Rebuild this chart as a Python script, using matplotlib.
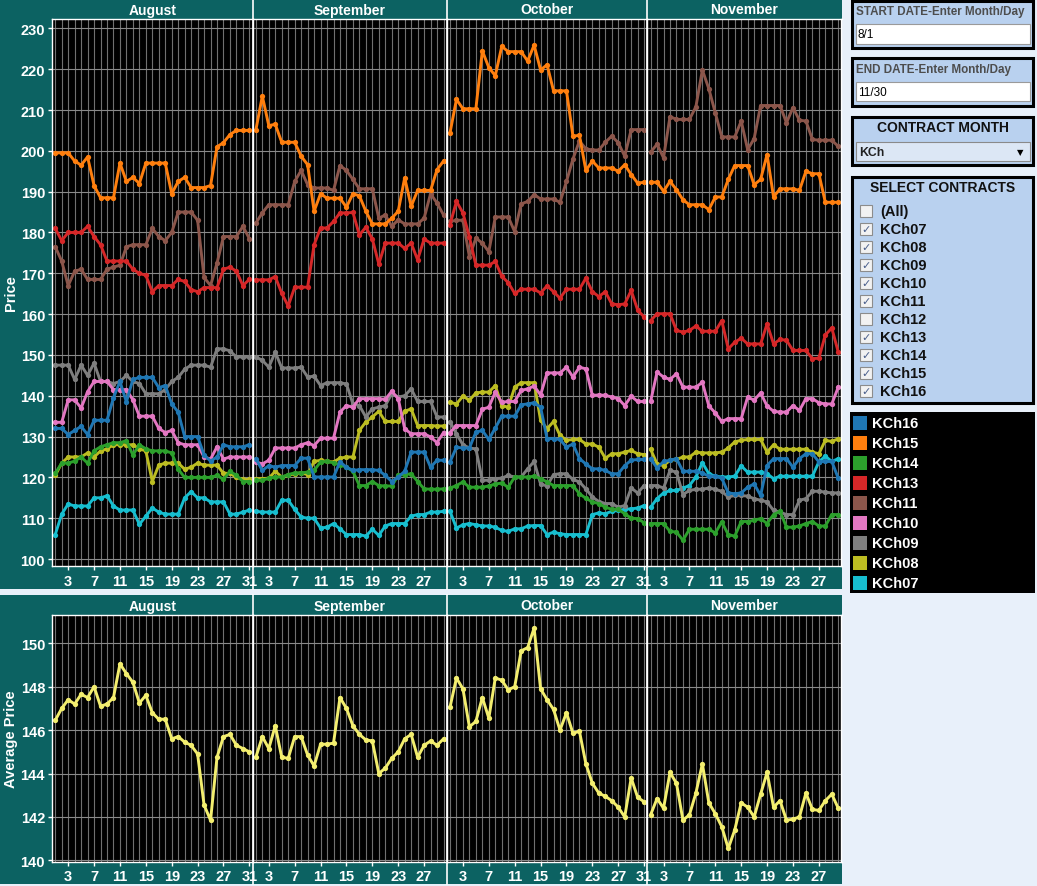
import matplotlib
matplotlib.use("Agg")
import matplotlib.pyplot as plt
from matplotlib.patches import Rectangle
from matplotlib.lines import Line2D

plt.rcParams["font.family"] = ["Liberation Sans", "DejaVu Sans"]

# ---- data (daily values, Aug 1 .. Nov 30) ----
months = ["August", "September", "October", "November"]
month_days = [31, 30, 31, 30]
month_ticks = [
    [3, 7, 11, 15, 19, 23, 27, 31],
    [3, 7, 11, 15, 19, 23, 27],
    [3, 7, 11, 15, 19, 23, 27, 31],
    [3, 7, 11, 15, 19, 23, 27],
]
price_ticks = [100, 110, 120, 130, 140, 150, 160, 170, 180, 190, 200, 210, 220, 230]
avg_ticks = [140, 142, 144, 146, 148, 150]

kch07 = [106, 111, 113.5, 113, 113, 113, 115, 115, 115.5, 113, 112, 112, 112, 108.5, 110.5, 112.5, 111.5, 111, 111, 111, 115, 116.5, 115, 115, 114, 114, 114, 111, 111, 111.5, 112,
         111.7, 111.5, 111.5, 111.5, 114.4, 114.4, 112.2, 110.3, 110, 110, 107.6, 107.8, 108.7, 107.4, 106, 106, 106, 105.6, 107.3, 105.8, 108.1, 108.7, 108.7, 108.7, 110.5, 110.9, 110.9, 111.5, 111.5, 111.7,
         111.7, 107.6, 108.4, 108.7, 108.4, 108.1, 108.1, 107.8, 107, 106.8, 107.4, 107.4, 108.1, 108.2, 108.2, 106, 106.6, 106.2, 106, 106, 106, 106, 110.9, 111.3, 111.1, 111.7, 111.9, 112.2, 112.3, 112.5, 113.1,
         112.7, 114.8, 116.2, 116.8, 116.8, 117.4, 118, 120.1, 123.6, 120.9, 120.3, 120.1, 120.1, 120.3, 122.8, 121.3, 121.3, 121.3, 120.9, 119.7, 120.3, 120.3, 120.3, 120.3, 120.3, 120.3, 123.8, 125.2, 123.9, 124.6]

kch08 = [120.5, 123.5, 125, 125, 125, 126, 125, 126.5, 127, 128, 128, 128, 128, 127, 126.5, 119, 123, 123.5, 123.5, 123.5, 122, 122.5, 123.5, 123, 123, 123, 121, 121, 120, 119.5, 119.5,
         119.7, 119.7, 119.8, 121.5, 120.1, 120.5, 120.9, 121.1, 120.7, 123.9, 124.2, 123.9, 123.8, 124.7, 125, 125, 131.5, 133.6, 134.8, 136.2, 133.7, 133.7, 133.7, 136.2, 136.8, 132.7, 132.7, 132.7, 132.6, 132.6,
         138.4, 138, 139.9, 138.9, 140.7, 140.9, 140.9, 142.5, 137.6, 137.2, 142.1, 143.2, 143.2, 143.2, 134, 131.9, 133.7, 130.3, 129.1, 129.3, 129.3, 128.2, 128.2, 127.4, 124.7, 125.8, 125.8, 126.2, 126.6, 125.8, 125.6,
         126.9, 123.3, 122.9, 124.2, 124.4, 125, 125, 126.2, 126, 126, 126, 126.2, 127.2, 128.7, 129.1, 129.3, 129.3, 129.3, 126.2, 128, 126.9, 126.9, 126.9, 126.9, 126.9, 126.2, 125.8, 129.1, 128.8, 129.5]

kch09 = [147.5, 147.5, 147.5, 144, 147.5, 145, 148, 143.5, 143.5, 143, 143.5, 145, 143.5, 143, 140.5, 140.5, 140.5, 141.5, 143.5, 144.5, 146.5, 147.5, 147.5, 147.5, 147, 151.5, 151.5, 151, 149.5, 149.5, 149.5,
         149.5, 148.7, 147, 150.7, 146.8, 146.8, 146.8, 147, 144.6, 144.8, 142.5, 143.2, 143.2, 143.2, 142.9, 138, 137.6, 134.8, 136.8, 137.2, 137.6, 140.5, 139.7, 140, 141.7, 138.6, 138.6, 138.6, 134.8, 134.8,
         133.6, 130.7, 128, 127.2, 127, 119.3, 119.3, 119.7, 119.8, 120.5, 120.1, 120.1, 122.1, 123.9, 118.4, 117.9, 120.7, 120.9, 120.9, 119.5, 118.9, 117.2, 115.2, 114.1, 113.6, 113.6, 112.7, 113.1, 117.4, 116.2, 118,
         118, 118, 117.4, 121.7, 121.3, 115.8, 116.8, 117.1, 117.1, 117.4, 117.1, 116.6, 115.2, 115.6, 115.6, 115.4, 114.8, 114.4, 114, 111.9, 111.5, 110.9, 110.9, 114.4, 114.8, 116.6, 116.6, 116.4, 116.2, 116.2]

kch10 = [133.5, 133.5, 139, 139, 137, 141, 143.5, 143.5, 143.5, 141.5, 141.5, 141.5, 139, 135, 135, 135, 132, 131, 131.5, 128.5, 128, 128, 128, 125, 124.5, 127.5, 124.5, 125, 125, 125, 125,
         123.8, 123.3, 124.2, 127.2, 127.2, 127.2, 127.2, 128, 128.5, 127.8, 129.6, 129.6, 129.6, 136, 137.6, 137.2, 139.3, 139.3, 139.3, 139.3, 139.1, 141.1, 139.3, 131.9, 130.7, 130.7, 130.7, 129.9, 128.5, 131,
         131, 132.7, 132.7, 132.7, 132.7, 136.7, 137.2, 140.9, 138.4, 138.6, 138.6, 141.3, 141.7, 142.4, 140.2, 145.6, 145.6, 145.6, 147, 144.6, 147, 146.6, 140.1, 140.2, 140.1, 139.7, 139.3, 137.6, 139.9, 138.6, 138.6,
         138.6, 145.8, 144.6, 144, 145.4, 142.1, 142.1, 142.1, 143.3, 137.5, 135.8, 133.7, 134.4, 134.4, 134.4, 139.7, 138.9, 140.7, 137.5, 136.2, 136, 136, 137.6, 136.4, 139.3, 139.3, 138.3, 138, 138, 142.1]

kch11 = [176.5, 173, 167, 170.5, 171, 168.5, 168.5, 168.5, 171, 171.5, 172, 176.5, 177, 177, 177, 181, 179, 178, 180, 185, 185, 185, 183, 169, 167, 172.5, 179, 179, 179, 181.5, 178.5,
         182.3, 184.8, 186.8, 186.8, 186.8, 186.8, 192.5, 195.2, 191.7, 190.9, 190.9, 190.9, 190.3, 196.4, 195.2, 193, 190.7, 190.7, 190.7, 183.5, 184.3, 181.5, 183.1, 182.1, 182.1, 182.1, 183.5, 189.5, 187.2, 184.3,
         182.7, 183, 183, 174.1, 178.6, 177.4, 175.3, 183.8, 183.8, 183.8, 180.2, 187, 187.6, 189.3, 188.2, 188.2, 188.2, 187.4, 192.5, 198, 202.4, 200.5, 200.2, 200.2, 202.1, 203.6, 202, 198.7, 205.2, 205.2, 205.2,
         199.7, 201.6, 198.3, 208.4, 207.7, 207.7, 207.7, 210.8, 219.8, 215.2, 209.3, 203.4, 203.4, 203.4, 207.3, 200.3, 203, 211.1, 211.1, 211.1, 211.1, 206.9, 210.6, 207.5, 207.3, 202.8, 202.6, 202.6, 202.6, 201.1]

kch13 = [181, 178, 180, 180, 180, 181.5, 179, 177, 173, 173, 173, 173, 171, 170, 169.5, 165.5, 167, 167, 167, 168.5, 168, 166, 165.5, 166.5, 166.5, 166.5, 171, 171.5, 170.5, 167, 168.5,
         168.4, 168.4, 168.4, 169.2, 165.1, 162, 166.6, 166.6, 166.6, 177, 181.1, 181.1, 182.7, 184.8, 184.8, 184.9, 179.4, 181.3, 178.4, 172.3, 177.4, 177.4, 177.4, 176.1, 177.4, 173.3, 178.4, 177.4, 177.4, 177.4,
         181.9, 187.6, 184.8, 178.9, 172, 172, 172, 172.9, 169.3, 167.7, 165.1, 166.1, 166.1, 166.1, 165.2, 166.9, 165.5, 163.9, 166.1, 166.1, 166.1, 168.8, 165.5, 164.3, 165.5, 162.5, 162.3, 162.5, 165.8, 161, 159.3,
         158.4, 160.1, 160.1, 160.1, 156, 155.6, 156, 157.1, 155.8, 155.8, 155.8, 158.4, 151.5, 153.1, 154.1, 152.7, 152.7, 152.7, 157.6, 152.7, 153.8, 153.6, 151.1, 151.1, 151.1, 149.1, 149.2, 154.9, 156.6, 150.7]

kch14 = [121, 123.5, 123.5, 124, 125, 123.5, 126.5, 127.5, 128, 128.5, 128.5, 129, 125.5, 128, 127, 126.5, 126.5, 126.5, 126, 122, 120, 120, 120, 120, 120, 120.5, 119.5, 121.5, 120.5, 119, 119,
         119.3, 119.3, 119.8, 120.1, 120.1, 120.7, 121.1, 121.1, 121.3, 121.7, 123.8, 123.9, 123.6, 123.1, 122.5, 121.5, 118, 118, 119, 118, 117.9, 117.9, 120.5, 120.7, 120.9, 119, 117.2, 117.1, 117.1, 117.2,
         117.4, 118, 118.9, 117.6, 117.6, 117.6, 117.9, 118.4, 118.6, 117.6, 120.1, 120.1, 120.1, 120.3, 119.7, 118.9, 118, 118, 118, 118, 116, 114.9, 114, 113.6, 112.7, 112.2, 112.2, 111.1, 110, 109.9, 108.9,
         108.7, 108.7, 108.7, 106.8, 106.6, 104.6, 107.3, 107.3, 107.3, 107.3, 106.4, 109.1, 106, 105.6, 109.2, 109.2, 109.5, 109.9, 108.7, 110.9, 111.7, 107.8, 107.8, 108.1, 108.7, 109.2, 108.1, 108.1, 110.9, 110.9]

kch15 = [199.5, 199.5, 199.5, 197.5, 196.5, 198.5, 191.5, 188.5, 188.5, 188.5, 197, 192.5, 193.5, 192, 197, 197, 197, 197, 189.5, 192.5, 193.5, 191, 191, 191, 191.5, 201, 202, 204, 205, 205, 205,
         205.1, 213.4, 206.2, 206.5, 202.1, 202.1, 202.1, 198.7, 196.6, 185.2, 189.5, 188.4, 188.4, 188.4, 186.2, 189.5, 189, 185.2, 182.1, 182.1, 182.1, 183.5, 185.2, 193.4, 186.4, 190.3, 190.3, 190.3, 195.4, 197.5,
         204.4, 212.6, 210.3, 210.3, 210.3, 224.5, 220.4, 218.4, 225.6, 224.3, 224.3, 224.3, 222, 225.9, 219.8, 221.1, 214.7, 214.7, 214.7, 203.6, 203.8, 195.2, 197.5, 195.8, 195.8, 195.8, 195, 196.6, 194.2, 192.1, 192.3,
         192.3, 192.3, 190.1, 192.5, 190.5, 188, 186.8, 186.8, 186.8, 185.6, 188.7, 188.7, 193, 196.4, 196.4, 196.4, 191.7, 193, 199.1, 188.7, 190.7, 190.7, 190.7, 190.3, 195, 194.4, 194.4, 187.4, 187.4, 187.4]

kch16 = [132, 132, 130.5, 131.5, 132.5, 130.5, 134, 134, 134, 139.5, 143.5, 138.5, 144, 144.5, 144.5, 144.5, 142, 142.5, 138, 136, 130, 130, 130, 125.5, 124, 125, 128, 127.5, 127.5, 127.5, 128,
         124.6, 121.7, 122.9, 122.5, 122.9, 122.9, 122.9, 124.7, 124.7, 120.1, 120.1, 120.1, 120.1, 123.8, 122.5, 121.7, 121.9, 121.9, 121.9, 121.7, 120.5, 119, 120.1, 121.5, 126.2, 126.2, 126.2, 122.5, 124.2, 124.2,
         123.8, 127.4, 127.2, 127.2, 131.1, 131.5, 129.3, 132.1, 135, 135, 135, 137.8, 138, 138.3, 137.2, 129.5, 129.5, 129.3, 127.4, 128.2, 124.6, 123.3, 122.1, 122.1, 121.7, 120.9, 120.9, 122.9, 124.2, 124.4, 124.4,
         124.6, 122.3, 123.9, 124.2, 124.6, 121.5, 121.5, 121.5, 121.1, 120.3, 120.3, 119.8, 116.2, 116, 116.2, 117.6, 118.4, 115.6, 122.9, 124.6, 124.6, 124.6, 122.5, 124.6, 125.8, 125.8, 123.8, 123.9, 123.9, 119.8]

avg_price = [146.45, 147, 147.4, 147.2, 147.65, 147.5, 148, 147.1, 147.2, 147.5, 149.05, 148.6, 148.2, 147.25, 147.6, 146.8, 146.5, 146.5, 145.6, 145.7, 145.45, 145.3, 144.9, 142.55, 141.85, 144.75, 145.7, 145.8, 145.3, 145.15, 145,
             144.75, 145.7, 145.15, 146.2, 144.75, 144.7, 145.7, 145.7, 144.85, 144.35, 145.35, 145.35, 145.4, 147.5, 147, 146.2, 145.8, 145.55, 145.5, 144, 144.25, 144.7, 145, 145.6, 145.8, 144.75, 145.3, 145.5, 145.3, 145.6,
             147.05, 148.4, 147.9, 146.15, 146.4, 147.5, 146.55, 148.4, 148.3, 147.85, 148, 149.65, 149.8, 150.7, 147.9, 147.4, 146.95, 146, 146.8, 145.85, 145.95, 144.45, 143.55, 143.1, 142.95, 142.75, 142.45, 142, 143.8, 142.9, 142.7,
             142.1, 142.85, 142.4, 144.05, 143.55, 141.85, 142.1, 143.1, 144.45, 142.65, 142.15, 141.55, 140.55, 141.4, 142.65, 142.45, 142, 143.05, 144.05, 142.45, 142.75, 141.85, 141.9, 142, 143.1, 142.35, 142.3, 142.75, 143.05, 142.4]

legend_names = ["KCh16", "KCh15", "KCh14", "KCh13", "KCh11", "KCh10", "KCh09", "KCh08", "KCh07"]
legend_colors = ["#1f77b4", "#ff7f0e", "#2ca02c", "#d62728", "#8c564b", "#e377c2", "#7f7f7f", "#bcbd22", "#17becf"]
series = {
    "KCh07": kch07, "KCh08": kch08, "KCh09": kch09, "KCh10": kch10, "KCh11": kch11,
    "KCh13": kch13, "KCh14": kch14, "KCh15": kch15, "KCh16": kch16,
}
color_of = dict(zip(legend_names, legend_colors))

contract_items = ["(All)", "KCh07", "KCh08", "KCh09", "KCh10", "KCh11", "KCh12", "KCh13", "KCh14", "KCh15", "KCh16"]
contract_checked = [False, True, True, True, True, True, False, True, True, True, True]

# ---- layout helpers (pixel coordinates, origin top-left) ----
W, H = 1037, 887
TEAL = "#0c6262"
PAGE = "#e8f0fa"
PANEL = "#b9d1ef"
GRID = "#707070"

fig = plt.figure(figsize=(W / 100, H / 100), dpi=100, facecolor=PAGE)


def rect(x0, y0, x1, y1, **kw):
    r = Rectangle((x0 / W, 1 - y1 / H), (x1 - x0) / W, (y1 - y0) / H,
                  transform=fig.transFigure, **kw)
    fig.add_artist(r)
    return r


def text(x, y, s, **kw):
    return fig.text(x / W, 1 - y / H, s, **kw)


def vline(x, y0, y1, color="white", lw=1.2):
    fig.add_artist(Line2D([x / W, x / W], [1 - y0 / H, 1 - y1 / H],
                          transform=fig.transFigure, color=color, lw=lw, zorder=5))


total_days = sum(month_days)
x_left, x_right = 52, 841.5
px_day = (x_right - x_left) / total_days
edges = [x_left]
for n in month_days:
    edges.append(edges[-1] + n * px_day)


def month_slices(vals):
    out, i = [], 0
    for n in month_days:
        out.append(vals[i:i + n])
        i += n
    return out


def chart(y_top, y_plot0, y_plot1, y_bot, ylim, yticks, ylabel, draw):
    rect(0, y_top, 842, y_bot, facecolor=TEAL, edgecolor="none", zorder=-2)
    for m, name in enumerate(months):
        x0, x1 = edges[m], edges[m + 1]
        text((x0 + x1) / 2, (y_top + y_plot0) / 2 + 0.5, name, color="white", fontsize=10,
             fontweight="bold", ha="center", va="center")
        ax = fig.add_axes([x0 / W, 1 - y_plot1 / H, (x1 - x0) / W, (y_plot1 - y_plot0) / H])
        ax.set_facecolor("black")
        n = month_days[m]
        days = list(range(1, n + 1))
        ax.set_xlim(0.5, n + 0.5)
        ax.set_ylim(*ylim)
        ax.set_xticks(days, minor=True)
        ax.set_xticks(month_ticks[m])
        ax.set_xticklabels([str(d) for d in month_ticks[m]])
        ax.set_yticks(yticks)
        ax.grid(True, which="both", axis="x", color=GRID, lw=0.8)
        ax.grid(True, which="major", axis="y", color="#8a8a8a", lw=0.8)
        ax.set_axisbelow(True)
        ax.tick_params(axis="x", which="major", colors="white", length=3, width=1, pad=2.5,
                       labelsize=10.5)
        ax.tick_params(axis="x", which="minor", length=0)
        for lab in ax.get_xticklabels():
            lab.set_fontweight("bold")
        if m == 0:
            ax.tick_params(axis="y", colors="white", length=3, width=1, pad=2, labelsize=10.5)
            for lab in ax.get_yticklabels():
                lab.set_fontweight("bold")
        else:
            ax.tick_params(axis="y", length=0, labelleft=False)
        for s in ax.spines.values():
            s.set_color("white")
            s.set_linewidth(1)
        draw(ax, m, days)
    for x in edges[1:-1]:
        vline(x, y_top, y_bot)
    text(11, (y_plot0 + y_plot1) / 2, ylabel, color="white", fontsize=10.5, fontweight="bold",
         rotation=90, ha="center", va="center")


def draw_prices(ax, m, days):
    for name in ["KCh07", "KCh08", "KCh09", "KCh10", "KCh11", "KCh13", "KCh14", "KCh15", "KCh16"]:
        vals = month_slices(series[name])[m]
        ax.plot(days, vals, color=color_of[name], lw=2.1, marker="o", ms=3.8, mew=0)


def draw_avg(ax, m, days):
    vals = month_slices(avg_price)[m]
    ax.plot(days, vals, color="#f3ee6f", lw=2.1, marker="o", ms=3.8, mew=0)


chart(0, 20, 567, 590, (98.3, 232.3), price_ticks, "Price", draw_prices)
chart(596, 616, 862.5, 885, (139.95, 151.3), avg_ticks, "Average Price", draw_avg)

# ---- right side controls ----
def panel(y0, y1):
    rect(852, y0, 1033, y1, facecolor=PANEL, edgecolor="black", lw=2.2, zorder=1)


panel(2, 49)
text(856, 12.5, "START DATE-Enter Month/Day", color="#4d4d4d", fontsize=8.4, fontweight="bold",
     va="center")
rect(855.5, 25, 1029.5, 45, facecolor="white", edgecolor="#9a9a9a", lw=0.8, zorder=2)
text(858, 35, "8/1", color="black", fontsize=8.5, va="center")

panel(59, 107)
text(856, 70.5, "END DATE-Enter Month/Day", color="#4d4d4d", fontsize=8.4, fontweight="bold",
     va="center")
rect(855.5, 83, 1029.5, 102, facecolor="white", edgecolor="#9a9a9a", lw=0.8, zorder=2)
text(858, 92.5, "11/30", color="black", fontsize=8.5, va="center")

panel(118, 166)
text(942.5, 128.5, "CONTRACT MONTH", color="#111111", fontsize=10, fontweight="bold",
     ha="center", va="center")
rect(855.5, 143, 1029.5, 162, facecolor="#dce7f5", edgecolor="#8a8a8a", lw=0.8, zorder=2)
text(859, 153, "KCh", color="#222222", fontsize=8.8, fontweight="bold", va="center")
text(1020, 153, "\u25bc", color="black", fontsize=6, ha="center", va="center",
     family=["DejaVu Sans"])

panel(178, 404)
text(942.5, 188.5, "SELECT CONTRACTS", color="#111111", fontsize=10, fontweight="bold",
     ha="center", va="center")
for i, (lab, chk) in enumerate(zip(contract_items, contract_checked)):
    yc = 212 + 18 * i
    rect(860, yc - 6, 872, yc + 6, facecolor="#f2f2f2", edgecolor="#8c8c8c", lw=0.8, zorder=2)
    if chk:
        text(866, yc + 0.5, "\u2713", color="#4a5f8c", fontsize=8, ha="center", va="center",
             family=["DejaVu Sans"])
    text(880, yc, lab, color="#111111", fontsize=10.5, fontweight="bold", va="center")

# legend
rect(850, 413, 1035, 594, facecolor="black", edgecolor="none", zorder=1)
for i, (lab, col) in enumerate(zip(legend_names, legend_colors)):
    yc = 424 + 20 * i
    rect(853, yc - 7, 867, yc + 7, facecolor=col, edgecolor="none", zorder=2)
    text(872, yc, lab, color="white", fontsize=10.5, fontweight="bold", va="center")

fig.savefig("out.png", dpi=100, facecolor=fig.get_facecolor())
